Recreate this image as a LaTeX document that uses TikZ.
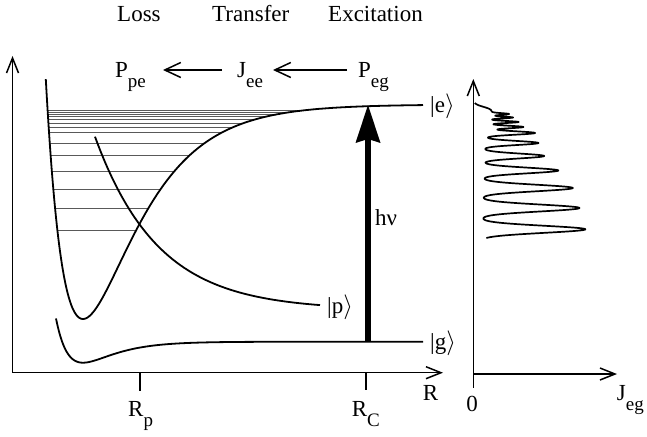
\documentclass[tikz,border=0pt]{standalone}
\usepackage{fontspec}
\setmainfont{Liberation Serif}
\usetikzlibrary{arrows.meta}
\newcommand\lowsub[1]{\raisebox{-10pt}{\fontsize{19}{19}\selectfont #1}}
\newcommand\myket[1]{|#1$\rangle$}
\begin{document}
\begin{tikzpicture}[x=1pt,y=-1pt,
  txt/.style={inner sep=0pt,anchor=base west,font=\fontsize{23}{26}\selectfont},
  axisline/.style={line width=1.5pt},
  barbtip/.tip={Straight Barb[length=15pt,width=12pt]},
  flow/.style={line width=1.5pt,-{Straight Barb[length=16pt,width=15pt]}},
  curve/.style={line width=1.8pt,line join=round},
  viblevel/.style={line width=0.9pt,black!65},
  photon/.style={line width=6.5pt,-{Stealth[length=38pt,width=25pt,inset=4pt,line width=0pt]}},
  tickmark/.style={line width=1.5pt},
  declare function={
    ee(\x)=exp(-0.0194*(\x-83));
    ecv(\x)=319-214.5*(1-ee(\x))*(1-ee(\x));
    gg(\x)=exp(-0.0332*(\x-83));
    gcv(\x)=362.7-21.0*(1-gg(\x))*(1-gg(\x));
    pcv(\x)=310-173.3*exp(-0.01584*(\x-95));
    gs(\t,\c,\a,\s)=\a*exp(-((\t-\c)/\s)*((\t-\c)/\s));
    spec(\t)=473.3+1/(1+exp(-(\t-107)/1.5))*(8+11*exp(-(\t-112)/25)
      +gs(\t,229.3,104,5.0)+gs(\t,208,98,4.85)+gs(\t,188,91,4.6)
      +gs(\t,170.5,76,3.95)+gs(\t,156,61,3.4)+gs(\t,143,54,2.85)
      +gs(\t,133,49,2.4)+gs(\t,127,36,1.75)+gs(\t,122,30,1.4)
      +gs(\t,117.5,23,1.2)+gs(\t,114,18,1.15));
  }]
\useasboundingbox (0,0) rectangle (647,436);

% header
\node[txt] (loss) at (117,21.7) {Loss};
\node[txt] (transfer) at (212,21.7) {Transfer};
\node[txt] (excit) at (328,21.7) {Excitation};

% rate labels and flow arrows
\node[txt] (Ppe) at (115,77) {P\lowsub{pe}};
\node[txt] (Jee) at (237,77) {J\lowsub{ee}};
\node[txt] (Peg) at (358,77) {P\lowsub{eg}};
\coordinate (f1s) at (222,70);
\coordinate (f1e) at (163,70);
\coordinate (f2s) at (347,70);
\coordinate (f2e) at (273,70);
\draw[flow] (f1s) -- (f1e);
\draw[flow] (f2s) -- (f2e);

% left axes
\coordinate (ytop) at (12.5,56);
\coordinate (orig) at (12.5,372.7);
\coordinate (xend) at (443,372.7);
\draw[axisline,barbtip-barbtip] (ytop) -- (orig) -- (xend);
\coordinate (rpa) at (140,372.7);
\coordinate (rpb) at (140,391);
\coordinate (rca) at (366,372.7);
\coordinate (rcb) at (366,390);
\draw[tickmark] (rpa) -- (rpb);
\draw[tickmark] (rca) -- (rcb);
\node[txt] (Rp) at (128,416) {R\lowsub{p}};
\node[txt] (RC) at (351.7,416.7) {R\lowsub{C}};
\node[txt] (Rax) at (422.7,400.7) {R};

% vibrational levels inside the excited well
\begin{scope}
  \clip plot[domain=45.8:423,samples=400] (\x,{ecv(\x)}) -- cycle;
  \foreach \yy in {230,208.3,189,171,155.7,143.3,132.7,127.3,123.3,119.3,116.7,114.7,112.7,110.7}
    \draw[viblevel] (0,\yy) -- (440,\yy);
\end{scope}

% potential curves
\draw[curve] plot[domain=45.8:423,samples=400] (\x,{ecv(\x)});
\draw[curve] plot[domain=56:423,samples=250] (\x,{gcv(\x)});
\draw[curve] plot[domain=95:320,samples=150] (\x,{pcv(\x)});
\node[txt] (ke) at (430,112) {\myket{e}};
\node[txt] (kg) at (430,349) {\myket{g}};
\node[txt] (kp) at (327,313) {\myket{p}};

% photon arrow
\coordinate (gpt) at (368,341.7);
\coordinate (ept) at (368,105);
\draw[photon] (gpt) -- (ept);
\node[txt] (hnu) at (375,225) {hν};

% right panel axes
\coordinate (y2top) at (473.3,79);
\coordinate (y2bot) at (473.3,388);
\coordinate (o2) at (473.3,374);
\coordinate (x2end) at (617,374);
\draw[axisline,barbtip-] (y2top) -- (y2bot);
\draw[axisline,-barbtip] (o2) -- (x2end);
\node[txt,anchor=base] (zero) at (472,411.7) {0};
\node[txt] (Jeg) at (616.7,400) {J\lowsub{eg}};

% spectrum
\draw[curve,line width=1.7pt] plot[variable=\t,domain=103:238,samples=541] ({spec(\t)},\t);
\end{tikzpicture}
\end{document}
